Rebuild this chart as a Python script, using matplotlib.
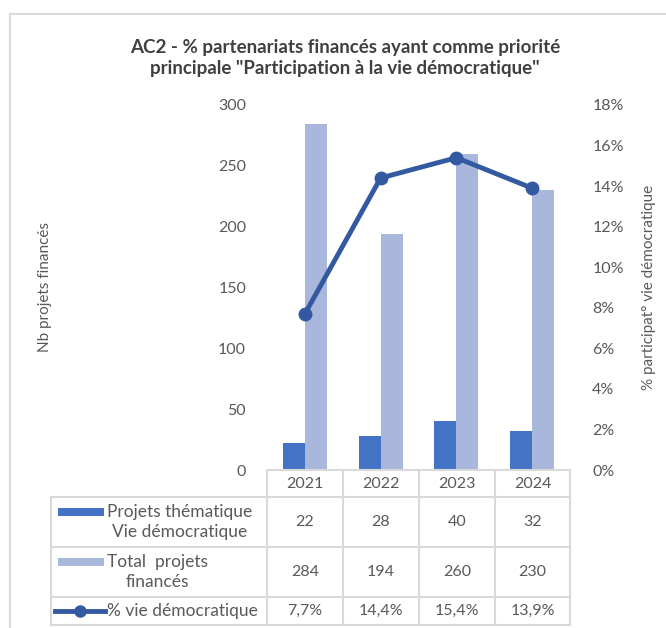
import numpy as np
import matplotlib
matplotlib.use('Agg')
import matplotlib.pyplot as plt
from matplotlib.lines import Line2D
from matplotlib.patches import Rectangle

plt.rcParams['font.family'] = ['Lato', 'DejaVu Sans']

W, H = 666, 628

years = ['2021', '2022', '2023', '2024']
projets_vie_demo = [22, 28, 40, 32]
total_projets = [284, 194, 260, 230]
pct_vie_demo = [7.7, 14.4, 15.4, 13.9]
pct_labels = ['7,7%', '14,4%', '15,4%', '13,9%']

row_labels = ['Projets thématique\nVie démocratique', 'Total  projets\nfinancés', '% vie démocratique']

DARK = '#4472C4'
LIGHT = '#A9B7DC'
LINE = '#335AA1'
TXT = '#595959'
GRID = '#D9D9D9'

def fx(x):
    return x / W

def fy(y):
    return 1 - y / H

fig = plt.figure(figsize=(W / 100, H / 100), dpi=100)

# outer chart frame
fig.add_artist(Rectangle((fx(10), fy(640)), fx(680), 626 / H, transform=fig.transFigure,
                         fill=False, edgecolor=GRID, linewidth=1.5))

# plot area
x0, x1, ytop, ybot = 267, 570, 105, 470
ax = fig.add_axes([fx(x0), fy(ybot), fx(x1 - x0), (ybot - ytop) / H])
x = np.arange(len(years))
bw = 0.29
ax.bar(x - bw / 2, projets_vie_demo, bw, color=DARK, zorder=2)
ax.bar(x + bw / 2, total_projets, bw, color=LIGHT, zorder=2)
ax.set_xlim(-0.5, len(years) - 0.5)
ax.set_ylim(0, 300)
ax.set_yticks(range(0, 301, 50))
ax.set_xticks([])
for s in ax.spines.values():
    s.set_visible(False)
ax.tick_params(axis='y', length=0, labelsize=11.5, labelcolor=TXT, pad=15)
ax.set_ylabel('Nb projets financés', fontsize=11, color=TXT, labelpad=0)
ax.yaxis.set_label_coords(-(x0 - 52) / (x1 - x0), 0.5)

ax2 = ax.twinx()
ax2.plot(x, pct_vie_demo, color=LINE, linewidth=3.5, marker='o', markersize=9, zorder=3)
ax2.set_ylim(0, 18)
ax2.set_yticks(range(0, 19, 2))
ax2.set_yticklabels([f'{v}%' for v in range(0, 19, 2)])
for s in ax2.spines.values():
    s.set_visible(False)
ax2.tick_params(axis='y', length=0, labelsize=11.5, labelcolor=TXT, pad=16)
ax2.set_ylabel('% participat° vie démocratique', fontsize=11, color=TXT)
ax2.yaxis.set_label_coords((642 - x0) / (x1 - x0), 0.5)

# title
fig.text(fx(345), fy(58), 'AC2 - % partenariats financés ayant comme priorité\nprincipale "Participation à la vie démocratique"',
         ha='center', va='center', fontsize=13.5, fontweight='bold', color='#404040', linespacing=1.3)

# data table
col_edges = [267, 343, 419, 495, 570]
rows_y = [470, 497, 547, 597, 625]
tleft = 51
lw = 1.5
def hline(y, xa, xb):
    fig.add_artist(Line2D([fx(xa), fx(xb)], [fy(y), fy(y)], color=GRID, linewidth=lw))
def vline(xp, ya, yb):
    fig.add_artist(Line2D([fx(xp), fx(xp)], [fy(ya), fy(yb)], color=GRID, linewidth=lw))

hline(rows_y[0], col_edges[0], col_edges[-1])
for yy in rows_y[1:]:
    hline(yy, tleft, col_edges[-1])
for xp in col_edges:
    vline(xp, rows_y[0], rows_y[-1])
vline(tleft, rows_y[1], rows_y[-1])

for i, yr in enumerate(years):
    cx = (col_edges[i] + col_edges[i + 1]) / 2
    fig.text(fx(cx), fy((rows_y[0] + rows_y[1]) / 2), yr, ha='center', va='center', fontsize=11.5, color=TXT)
    vals = [str(projets_vie_demo[i]), str(total_projets[i]), pct_labels[i]]
    for r in range(3):
        cy = (rows_y[r + 1] + rows_y[r + 2]) / 2
        fig.text(fx(cx), fy(cy), vals[r], ha='center', va='center', fontsize=11.5, color=TXT)

# legend keys in table
for r, col in enumerate([DARK, LIGHT]):
    top = rows_y[r + 1]
    fig.add_artist(Rectangle((fx(58), fy(top + 19)), fx(46), 8 / H, transform=fig.transFigure,
                             facecolor=col, edgecolor='none'))
    cy = (rows_y[r + 1] + rows_y[r + 2]) / 2
    fig.text(fx(107), fy(cy), row_labels[r], ha='left', va='center', fontsize=12.5, color=TXT,
             linespacing=1.25, multialignment='center')
ly = (rows_y[3] + rows_y[4]) / 2
fig.add_artist(Line2D([fx(55), fx(105)], [fy(ly), fy(ly)], color=LINE, linewidth=3.5))
fig.add_artist(Line2D([fx(80)], [fy(ly)], color=LINE, marker='o', markersize=8, linestyle='none'))
fig.text(fx(107), fy(ly), row_labels[2], ha='left', va='center', fontsize=12.5, color=TXT)

fig.savefig('out.png', dpi=100)
